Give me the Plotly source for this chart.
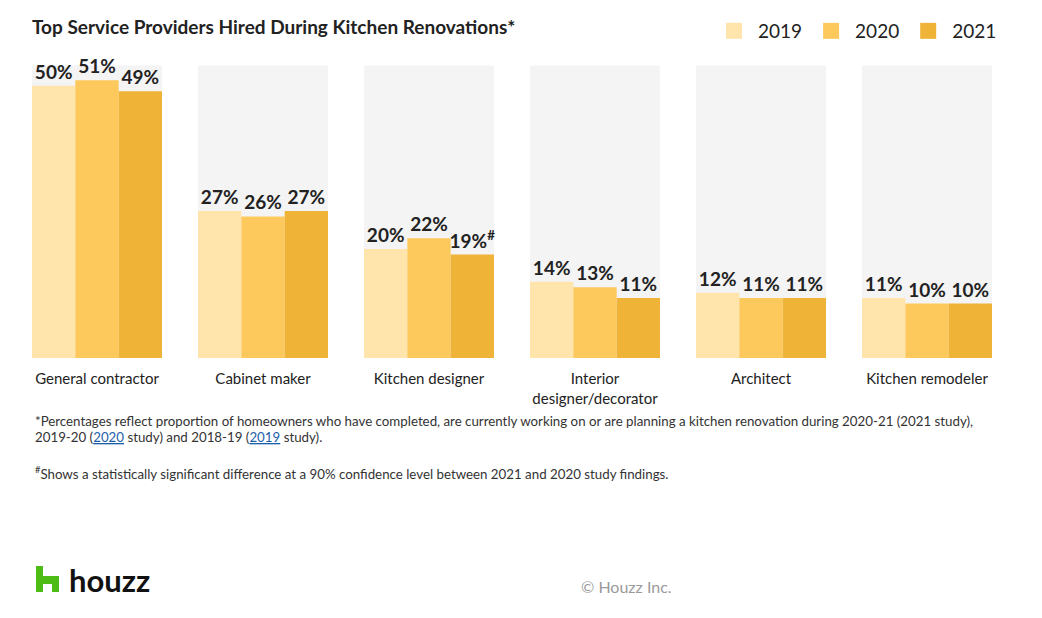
import plotly.graph_objects as go

categories = ["General contractor", "Cabinet maker", "Kitchen designer",
              "Interior<br>designer/decorator", "Architect", "Kitchen remodeler"]
years = ["2019", "2020", "2021"]
values_2019 = [50, 27, 20, 14, 12, 11]
values_2020 = [51, 26, 22, 13, 11, 10]
values_2021 = [49, 27, 19, 11, 11, 10]
marks_2021 = ["", "", "<sup>#</sup>", "", "", ""]
background_level = [53.7] * len(categories)

colors = ["#FFE4AB", "#FDC95C", "#EEB337"]
FONT = "Lato"

W, H = 1042, 618
OFF = 8  # page body margin
L, R, T, B = 14, 1010, 53, 358  # plot area in screenshot pixels


def px(x):
    return (x - L) / (R - L)


def py(y):
    return (B - y) / (B - T)


fig = go.Figure()

# grey background panels (base axes)
fig.add_trace(go.Bar(
    x=categories, y=background_level, width=0.783,
    marker=dict(color="#F4F4F4", line=dict(width=0)),
    showlegend=False, hoverinfo="skip", xaxis="x", yaxis="y"))

series = [values_2019, values_2020, values_2021]
marks = [[""] * 6, [""] * 6, marks_2021]
for yr, vals, col, mk in zip(years, series, colors, marks):
    fig.add_trace(go.Bar(
        name=yr, x=categories, y=vals, legendgroup=yr, showlegend=False,
        text=[f"{v}%{m}" for v, m in zip(vals, mk)],
        textposition="outside", constraintext="none", cliponaxis=False,
        textfont=dict(family=FONT, size=19, color="#222222", weight="bold"),
        marker=dict(color=col, line=dict(width=0)),
        xaxis="x2", yaxis="y2"))

# legend entries with larger square swatches
for yr, col in zip(years, colors):
    fig.add_trace(go.Scatter(
        name=yr, x=[None], y=[None], mode="markers", legendgroup=yr,
        marker=dict(symbol="square", size=16, color=col, line=dict(width=0)),
        hoverinfo="skip", xaxis="x2", yaxis="y2"))

axis_common = dict(range=[-0.5, 5.5], showgrid=False, zeroline=False, showline=False)
fig.update_layout(
    width=W, height=H,
    margin=dict(l=L - OFF, r=W - (R - OFF), t=T - OFF, b=H - (B - OFF),
                autoexpand=False),
    paper_bgcolor="white", plot_bgcolor="white",
    barmode="group", bargap=0.217, bargroupgap=0,
    font=dict(family=FONT, color="#222222"),
    title=dict(text="Top Service Providers Hired During Kitchen Renovations*",
               x=(32 - OFF) / W, xref="container", xanchor="left",
               y=1 - (27 - OFF) / H, yref="container", yanchor="middle",
               font=dict(family=FONT, size=19, color="#222222", weight="bold")),
    xaxis=dict(**axis_common, type="category", ticks="", ticklabelstandoff=10,
               tickfont=dict(family=FONT, size=15, color="#222222")),
    yaxis=dict(range=[0, 56], visible=False, fixedrange=True),
    xaxis2=dict(**axis_common, type="category", overlaying="x", visible=False,
                matches="x"),
    yaxis2=dict(range=[0, 56], overlaying="y", visible=False),
    legend=dict(orientation="h", x=px(1002), xanchor="right", y=py(12),
                yanchor="top", font=dict(family=FONT, size=19, color="#222222"),
                itemwidth=38, itemsizing="trace", traceorder="normal",
                bgcolor="rgba(0,0,0,0)"),
    hovermode=False,
)

link = "<span style='color:#1B5FAA'><u>{}</u></span>"
note_font = dict(family=FONT, size=13.3, color="#333333")
notes = [
    (421, "*Percentages reflect proportion of homeowners who have completed, are currently "
          "working on or are planning a kitchen renovation during 2020-21 (2021 study),"),
    (437, f"2019-20 ({link.format('2020')} study) and 2018-19 ({link.format('2019')} study)."),
    (473, "<sup>#</sup>Shows a statistically significant difference at a 90% confidence level "
          "between 2021 and 2020 study findings."),
]
for yy, txt in notes:
    fig.add_annotation(xref="paper", yref="paper", x=px(33), y=py(yy),
                       xanchor="left", yanchor="middle", align="left",
                       showarrow=False, font=note_font, text=txt)

# houzz logo
pts = [(36, 566), (43, 566), (43, 576), (59, 576), (59, 592), (52, 592),
       (52, 584), (43, 584), (43, 592), (36, 592)]
path = "M " + " L ".join(f"{px(x):.5f},{py(y):.5f}" for x, y in pts) + " Z"
fig.add_shape(type="path", xref="paper", yref="paper", path=path,
              fillcolor="#4DBC15", line=dict(width=0))
fig.add_annotation(xref="paper", yref="paper", x=px(67), y=py(580),
                   xanchor="left", yanchor="middle", showarrow=False,
                   text="houzz", font=dict(family=FONT, size=31, color="#111111",
                                           weight="bold"))
fig.add_annotation(xref="paper", yref="paper", x=px(626), y=py(586),
                   xanchor="center", yanchor="middle", showarrow=False,
                   text="© Houzz Inc.", font=dict(family=FONT, size=16, color="#9A9A9A"))

fig.write_html("out.html")
